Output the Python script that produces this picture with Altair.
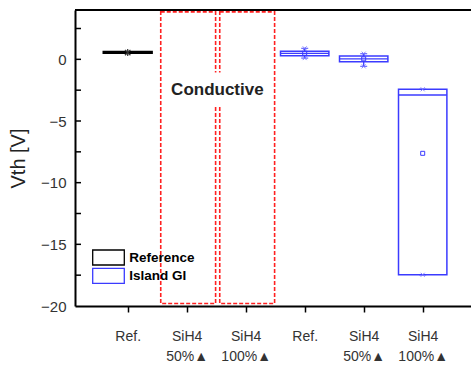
import altair as alt
import pandas as pd

# ---------------- data ----------------
cat_pos = [1, 2, 3, 4, 5, 6]
cat_line1 = ["Ref.", "SiH4", "SiH4", "Ref.", "SiH4", "SiH4"]
cat_line2 = ["", "50%▲", "100%▲", "", "50%▲", "100%▲"]

box_group = ["Reference", "Island GI", "Island GI", "Island GI"]
box_pos = [1, 4, 5, 6]
box_q1 = [0.52, 0.30, -0.19, -17.47]
box_q3 = [0.62, 0.65, 0.27, -2.43]
box_median = [0.57, 0.49, 0.03, -2.89]
box_low = [0.52, 0.10, -0.57, -17.47]
box_high = [0.62, 0.89, 0.46, -2.43]
box_mean = [0.55, 0.49, 0.04, -7.62]

conductive_pos = [2, 3]
conductive_top = 3.85
conductive_bottom = -19.8
conductive_label = "Conductive"

y_labels = [-20, -15, -10, -5, 0]
y_ticks = [-17.5, -15, -12.5, -10, -7.5, -5, -2.5, 0, 2.5]

series_names = ["Reference", "Island GI"]
series_colors = ["#000000", "#3b3bff"]

# ---------------- layout ----------------
W, H = 396, 296
STEP = 59.0
x0 = 1 - 52.7 / STEP
x_dom = [x0, x0 + W / STEP]
y_dom = [-20, 4]
BOX_HALF = 0.41
FONT = "Liberation Sans"

xs = alt.Scale(domain=x_dom, nice=False, zero=False)
ys = alt.Scale(domain=y_dom, nice=False, zero=False)

boxes = pd.DataFrame({
    "group": box_group, "pos": box_pos, "q1": box_q1, "q3": box_q3,
    "median": box_median, "low": box_low, "high": box_high, "mean": box_mean,
})
boxes["left"] = boxes["pos"] - BOX_HALF
boxes["right"] = boxes["pos"] + BOX_HALF

cond = pd.DataFrame({"pos": conductive_pos})
cond["left"] = cond["pos"] - 0.44
cond["right"] = cond["pos"] + 0.49
cond["top"] = conductive_top
cond["bottom"] = conductive_bottom

label_items = []
for a, b in zip(cat_line1, cat_line2):
    label_items.append(f"['{a}','{b}']" if b else f"'{a}'")
label_expr = "[" + ",".join(label_items) + f"][datum.value - {cat_pos[0]}]"

x_axis = alt.Axis(values=cat_pos, labelExpr=label_expr, title=None, grid=False,
                  tickSize=6, tickWidth=1.5, tickColor="black", domainColor="black",
                  domainWidth=2, labelFontSize=14, labelFont=FONT, labelColor="#333333",
                  labelPadding=17, labelLineHeight=20, labelBaseline="top")
y_axis = alt.Axis(values=y_labels, title="Vth [V]", grid=False, ticks=False,
                  domainColor="black", domainWidth=2, labelFontSize=15, labelFont=FONT,
                  labelColor="#333333", labelPadding=9, titleFontSize=20,
                  titleFont=FONT, titleFontWeight="normal", titleColor="#222222",
                  titlePadding=12)

# conductive regions
cond_rect = alt.Chart(cond).mark_rect(fill="transparent", stroke="#ff2020",
                                       strokeDash=[4, 2], strokeWidth=1.6).encode(
    x=alt.X("left:Q", scale=xs, axis=x_axis), x2="right:Q",
    y=alt.Y("top:Q", scale=ys, axis=y_axis), y2="bottom:Q")

lab = pd.DataFrame({"text": [conductive_label],
                    "xc": [sum(conductive_pos) / len(conductive_pos) + 0.02],
                    "yc": [-2.45]})
lab["l"] = lab["xc"] - 0.865
lab["r"] = lab["xc"] + 0.865
lab["t"] = lab["yc"] + 1.38
lab["b"] = lab["yc"] - 1.38
lab_bg = alt.Chart(lab).mark_rect(fill="white").encode(
    x=alt.X("l:Q", scale=xs), x2="r:Q", y=alt.Y("t:Q", scale=ys), y2="b:Q")
lab_text = alt.Chart(lab).mark_text(font=FONT, fontSize=17, fontWeight="bold",
                                    color="#222222").encode(
    x=alt.X("xc:Q", scale=xs), y=alt.Y("yc:Q", scale=ys), text="text:N")

color_scale = alt.Scale(domain=series_names, range=series_colors)

box_rect = alt.Chart(boxes).mark_rect(fill="transparent").encode(
    x=alt.X("left:Q", scale=xs), x2="right:Q",
    y=alt.Y("q1:Q", scale=ys), y2="q3:Q",
    stroke=alt.Stroke("group:N", scale=color_scale, legend=None),
    strokeWidth=alt.condition(alt.datum.group == "Reference", alt.value(2), alt.value(1.5)),
)

blue = series_colors[1]
island = boxes[boxes["group"] == "Island GI"]

median_rule = alt.Chart(island).mark_rule(color=blue, strokeWidth=1.3).encode(
    x=alt.X("left:Q", scale=xs), x2="right:Q", y=alt.Y("median:Q", scale=ys))
whisk_lo = alt.Chart(island).mark_rule(color=blue, strokeWidth=1.3).encode(
    x=alt.X("pos:Q", scale=xs), y=alt.Y("low:Q", scale=ys), y2="q1:Q")
whisk_hi = alt.Chart(island).mark_rule(color=blue, strokeWidth=1.3).encode(
    x=alt.X("pos:Q", scale=xs), y=alt.Y("q3:Q", scale=ys), y2="high:Q")
cap_lo = alt.Chart(island).mark_tick(color=blue, orient="horizontal", size=7,
                                     thickness=1.3).encode(
    x=alt.X("pos:Q", scale=xs), y=alt.Y("low:Q", scale=ys))
cap_hi = alt.Chart(island).mark_tick(color=blue, orient="horizontal", size=7,
                                     thickness=1.3).encode(
    x=alt.X("pos:Q", scale=xs), y=alt.Y("high:Q", scale=ys))
xpath = "M-1,-1L1,1M-1,1L1,-1"
mk_hi = alt.Chart(island).mark_point(shape=xpath, size=16, color="#7777ff",
                                     strokeWidth=0.9, filled=False, opacity=1).encode(
    x=alt.X("pos:Q", scale=xs), y=alt.Y("high:Q", scale=ys))
mk_lo = alt.Chart(island).mark_point(shape=xpath, size=16, color="#7777ff",
                                     strokeWidth=0.9, filled=False, opacity=1).encode(
    x=alt.X("pos:Q", scale=xs), y=alt.Y("low:Q", scale=ys))
mk_mean = alt.Chart(island).mark_point(shape="square", size=16, color=blue,
                                       strokeWidth=1, filled=False, opacity=1).encode(
    x=alt.X("pos:Q", scale=xs), y=alt.Y("mean:Q", scale=ys))
ref = boxes[boxes["group"] == "Reference"]
mk_ref = alt.Chart(ref).mark_point(shape="M-1,-1L1,1M-1,1L1,-1M0,-1.3L0,1.3", size=30,
                                   color="#333333", strokeWidth=1.2, filled=False,
                                   opacity=1).encode(
    x=alt.X("pos:Q", scale=xs), y=alt.Y("mean:Q", scale=ys))

# manual legend (pixel layout inside the plot area)
LEG_X, LEG_Y, ROW, SW_W, SW_H = 17.7, 240.0, 18.3, 31.6, 15.0
leg = pd.DataFrame({"name": series_names, "color": series_colors})
leg["y0"] = LEG_Y + leg.index * ROW
leg["y1"] = leg["y0"] + SW_H
leg["yc"] = leg["y0"] + SW_H / 2
leg_sw = alt.Chart(leg).mark_rect(fill="white", strokeWidth=1.3).encode(
    x=alt.value(LEG_X), x2=alt.value(LEG_X + SW_W),
    y=alt.Y("y0:Q", scale=None), y2="y1:Q",
    stroke=alt.Stroke("color:N", scale=None))
leg_tx = alt.Chart(leg).mark_text(align="left", baseline="middle", font=FONT,
                                  fontSize=13.5, fontWeight="bold", color="black").encode(
    x=alt.value(LEG_X + SW_W + 5), y=alt.Y("yc:Q", scale=None), text="name:N")

# inward y ticks and top frame
yt = pd.DataFrame({"v": y_ticks})
ytick = alt.Chart(yt).mark_rule(color="black", strokeWidth=1.5).encode(
    y=alt.Y("v:Q", scale=ys), x=alt.value(0), x2=alt.value(6))
top_line = alt.Chart(yt).mark_rule(color="black", strokeWidth=2).encode(
    y=alt.value(0), x=alt.value(0), x2=alt.value(W))

chart = alt.layer(
    cond_rect, lab_bg, lab_text, box_rect, median_rule, whisk_lo, whisk_hi, cap_lo, cap_hi,
    mk_hi, mk_lo, mk_mean, mk_ref, leg_sw, leg_tx, ytick, top_line,
).properties(
    width=W, height=H,
    autosize=alt.AutoSizeParams(type="none"),
    padding={"left": 75, "top": 10, "right": 0, "bottom": 60},
    background="white",
).configure_view(stroke=None)

chart.save("out.html", embed_options={"renderer": "svg", "actions": False})
